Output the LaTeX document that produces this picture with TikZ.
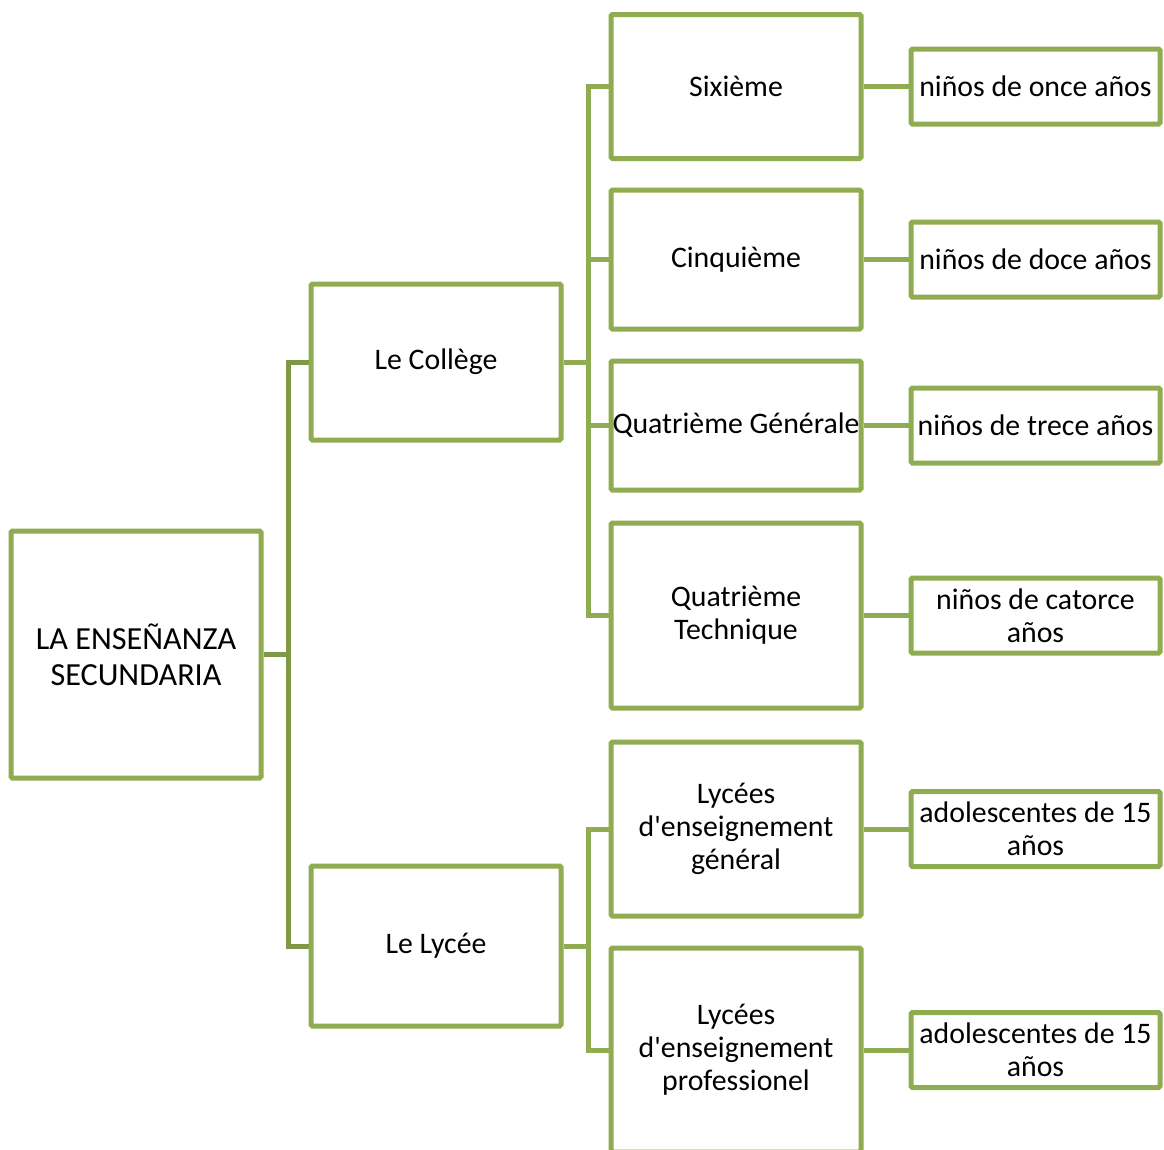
\documentclass[tikz,border=0pt]{standalone}
\usepackage{fontspec}
\setmainfont{Carlito}[Ligatures=TeXOff]
\definecolor{boxgreen}{HTML}{8FAC50}
\definecolor{rootgreen}{HTML}{7E9848}
\tikzset{
  box/.style={draw=boxgreen, line width=5pt, rounded corners=1.5pt, fill=white,
    minimum width=250pt, inner sep=1pt, align=center,
    font=\fontsize{29.8}{33}\selectfont},
  link/.style={draw=boxgreen, line width=5pt},
  rootlink/.style={draw=rootgreen, line width=5pt},
}
\begin{document}
\begin{tikzpicture}[x=1pt,y=-1pt]
\useasboundingbox (0,0) rectangle (1164,1149);
\clip (0,0) rectangle (1164,1149);
\fill[white] (0,0) rectangle (1164,1149);
% level 0
\node[box, minimum height=247pt, font=\fontsize{32.2}{36}\selectfont] (root) at (136,654.5) {LA ENSEÑANZA\\SECUNDARIA};
% level 1
\node[box, minimum height=156pt] (coll) at (436,362) {Le Collège};
\node[box, minimum height=160pt] (lyc) at (436,946) {Le Lycée};
% level 2
\node[box, minimum height=144pt] (six) at (736,86.5) {Sixième};
\node[box, minimum height=139pt] (cinq) at (736,259.5) {Cinquième};
\node[box, minimum height=129pt] (qg) at (736,425.5) {Quatrième Générale};
\node[box, minimum height=185pt] (qt) at (736,615.5) {Quatrième\\Technique};
\node[box, minimum height=174pt] (lg) at (736,829) {Lycées\\d'enseignement\\général};
\node[box, minimum height=204pt] (lp) at (736,1050) {Lycées\\d'enseignement\\professionel};
% level 3
\node[box, minimum width=249pt, minimum height=75pt] (once) at (1035.5,86.5) {niños de once años};
\node[box, minimum width=249pt, minimum height=75pt] (doce) at (1035.5,259.5) {niños de doce años};
\node[box, minimum width=249pt, minimum height=75pt] (trece) at (1035.5,425.5) {niños de trece años};
\node[box, minimum width=249pt, minimum height=75pt] (cat) at (1035.5,615.5) {niños de catorce\\años};
\node[box, minimum width=249pt, minimum height=75pt] (ado1) at (1035.5,829) {adolescentes de 15\\años};
\node[box, minimum width=249pt, minimum height=75pt] (ado2) at (1035.5,1050) {adolescentes de 15\\años};
% connectors from root
\draw[rootlink] (root.east) -- ++(25,0) coordinate (j1);
\draw[rootlink] (coll.west) -| (j1) |- (lyc.west);
% connectors from Collège
\draw[link] (coll.east) -- ++(25,0) coordinate (j2);
\draw[link] (six.west) -| (j2) |- (qt.west);
\draw[link] (j2) |- (cinq.west);
\draw[link] (j2) |- (qg.west);
% connectors from Lycée
\draw[link] (lyc.east) -- ++(25,0) coordinate (j3);
\draw[link] (lg.west) -| (j3) |- (lp.west);
% connectors to level 3
\draw[link] (six.east) -- (once.west);
\draw[link] (cinq.east) -- (doce.west);
\draw[link] (qg.east) -- (trece.west);
\draw[link] (qt.east) -- (cat.west);
\draw[link] (lg.east) -- (ado1.west);
\draw[link] (lp.east) -- (ado2.west);
\end{tikzpicture}
\end{document}
